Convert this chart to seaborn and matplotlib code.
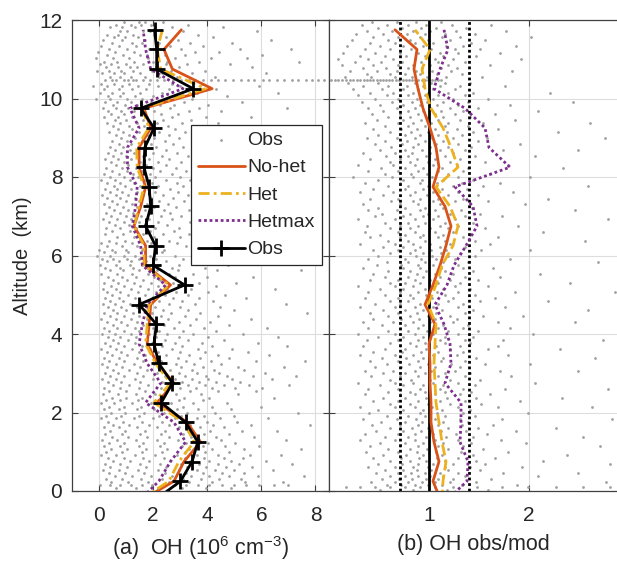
import numpy as np
import pandas as pd
import matplotlib
matplotlib.use('Agg')
import matplotlib.pyplot as plt
import seaborn as sns

# altitude bins of the profiles (km); the -0.25 point is clipped by the axis
altitude = [-0.25, 0.25, 0.75, 1.25, 1.75, 2.25, 2.75, 3.25, 3.75, 4.25, 4.75, 5.25, 5.75,
            6.25, 6.75, 7.25, 7.75, 8.25, 8.75, 9.25, 9.75, 10.25, 10.75, 11.25, 11.75]

# (a) OH concentration, 10^6 cm^-3
oh_obs = [2.03, 3.01, 3.44, 3.65, 3.20, 2.30, 2.71, 2.21, 2.03, 2.12, 1.48, 3.16, 2.00,
          2.09, 1.72, 1.91, 1.85, 1.66, 1.69, 2.03, 1.54, 3.48, 2.13, 2.13, 2.05]
oh_nohet = [1.53, 2.77, 3.14, 3.75, 3.26, 2.15, 2.77, 2.15, 1.78, 1.85, 1.91, 2.64, 1.72,
            1.72, 1.29, 1.54, 1.72, 1.48, 1.48, 1.91, 1.66, 4.18, 2.71, 2.40, 3.04]
oh_het = [1.48, 2.58, 2.95, 3.51, 3.14, 2.03, 2.64, 2.09, 1.72, 1.78, 1.85, 2.58, 1.66,
          1.66, 1.29, 1.48, 1.66, 1.41, 1.39, 1.84, 1.60, 3.94, 2.28, 2.15, 2.34]
oh_hetmax = [1.48, 2.21, 2.64, 3.20, 2.77, 1.72, 2.28, 1.78, 1.48, 1.60, 1.78, 2.46, 1.60,
             1.54, 1.23, 1.35, 1.41, 1.05, 1.05, 1.48, 1.14, 3.10, 1.91, 1.72, 1.63]

# (b) obs/mod ratio
ratio_nohet = [1.12, 1.04, 1.10, 1.05, 1.02, 1.02, 1.01, 1.01, 1.00, 1.06, 0.96, 1.04, 1.11,
               1.17, 1.22, 1.16, 1.04, 1.10, 1.07, 1.01, 0.94, 0.89, 0.85, 0.88, 0.66]
ratio_het = [1.13, 1.14, 1.17, 1.13, 1.10, 1.07, 1.06, 1.05, 1.06, 1.07, 0.99, 1.07, 1.13,
             1.24, 1.29, 1.21, 1.07, 1.29, 1.22, 1.14, 1.02, 0.96, 0.93, 1.01, 0.86]
ratio_hetmax = [1.17, 1.38, 1.39, 1.31, 1.32, 1.32, 1.16, 1.22, 1.21, 1.15, 1.06, 1.18, 1.25,
                1.37, 1.48, 1.44, 1.26, 1.81, 1.60, 1.56, 1.36, 1.05, 1.11, 1.19, 1.15]
ratio_ref = [1.0]
ratio_unc = [1 / 1.4, 1.4]

# individual observations (gray dots), read row by row: "altitude: x values"
obs_points_a = """
11.96: 0.93 1.48 1.71 2.36
11.88: 0.62 1.17 1.55 1.92 3.27
11.81: 0.41 0.86 1.33 2.08 2.71 4.58
11.72: 0.77 1.04 1.62 1.87 3.12 5.83
11.63: 0.28 0.69 1.26 2.03 3.64
11.57: 0.55 0.97 1.44 2.47 4.21
11.49: 0.16 0.83 1.68 2.92 6.34
11.41: 0.47 1.21 1.59 2.23 3.38 4.93
11.33: 0.09 0.74 1.37 2.61 3.86
11.26: 0.36 1.02 1.83 2.17 3.04 5.21 7.08
11.18: -0.04 0.58 1.29 2.12 3.53 4.42
11.11: 0.31 0.88 1.51 1.76 2.44 3.19 6.02
11.03: -0.13 0.52 1.09 1.81 2.79 4.13 5.47
10.94: 0.19 0.66 1.31 2.01 2.52 3.71 7.39
10.87: 0.04 0.43 0.98 1.63 2.48 3.26 4.84
10.79: 0.27 0.71 1.14 1.42 2.09 2.94 5.66
10.71: -0.08 0.35 0.81 1.24 1.97 2.66 3.91
10.64: 0.12 0.57 0.93 1.53 2.31 3.45 6.18
10.56: 0.39 0.77 1.18 1.69 2.22 2.88 4.27
10.48: 0.21 0.62 1.06 1.37 1.89 2.41 3.02 3.56 4.13 4.67 5.24 5.71 6.29 6.82 7.37 7.88 8.32
10.46: 0.48 0.91 1.27 1.61 2.16 2.73 3.31 3.83 4.39 4.96 5.49 6.05 6.57 7.12 7.64 8.11
10.38: 0.07 0.56 1.12 1.86 2.69 3.79
10.31: -0.22 0.29 0.84 1.43 2.18 3.01 5.92
10.23: 0.18 0.73 1.21 1.74 2.57 4.31
10.15: 0.02 0.49 0.87 1.52 2.33 3.62 6.61
10.07: 0.33 0.79 1.34 1.99 2.86 4.72
9.99: -0.11 0.42 1.03 1.58 2.51 3.43
9.92: 0.23 0.68 1.19 1.93 3.13 5.28
9.84: 0.51 0.96 1.41 2.24 2.77 4.02
9.76: 0.13 0.61 1.08 1.72 2.63 3.68 6.96
9.69: 0.32 0.82 1.28 2.04 3.31 4.49
9.61: 0.44 0.92 1.54 2.29 2.93
9.53: 0.17 0.71 1.23 1.79 2.68 3.94 5.61
9.46: 0.58 1.01 1.63 2.38 3.41
9.38: 0.29 0.78 1.39 2.13 3.06 4.38
9.31: 0.53 1.11 1.66 2.54 3.58
9.23: 0.71 1.22 1.86 2.82 4.07
9.15: 0.38 0.89 1.47 2.21 3.17
9.08: 0.63 1.09 1.78 2.59 3.82 4.98
9.00: 0.81 1.32 2.02 2.97
8.92: 0.48 1.04 1.57 2.43 3.48 4.62
8.85: 0.72 1.19 1.91 2.74
8.77: 0.41 0.87 1.43 2.11 3.09 4.29
8.69: 0.59 1.13 1.69 2.49 3.72
8.62: 0.34 0.81 1.31 1.98 2.89 5.37
8.54: 0.52 0.99 1.61 2.32 3.28
8.46: 0.22 0.69 1.17 1.83 2.58 3.97
8.38: 0.43 0.94 1.52 2.19 3.03 4.81
8.31: 0.61 1.07 1.73 2.47 3.63
8.23: 0.27 0.83 1.36 2.01 2.84 4.41
8.15: 0.49 1.02 1.58 2.27 3.22 6.08
8.08: 0.19 0.72 1.24 1.88 2.71 3.81
8.00: 0.39 0.91 1.44 2.08 2.98 4.57
7.92: 0.08 0.58 1.13 1.71 2.46 3.37
7.85: 0.31 0.79 1.29 1.96 2.87 4.18 6.73
7.77: 0.54 0.97 1.51 2.17 3.11
7.69: 0.21 0.67 1.18 1.82 2.61 3.74
7.62: 0.42 0.86 1.41 2.06 2.91 4.88
7.54: 0.11 0.63 1.07 1.64 2.37 3.29
7.46: 0.28 0.76 1.34 1.92 2.72 4.04
7.38: 0.47 0.98 1.49 2.23 3.14 5.19
7.31: 0.18 0.66 1.22 1.78 2.54 3.57
7.23: 0.37 0.88 1.39 2.02 2.83 4.43
7.15: 0.57 1.06 1.68 2.41 3.32
7.08: 0.26 0.77 1.27 1.89 2.64 3.88 5.94
7.00: 0.46 1.01 1.56 2.28 3.04
6.92: 0.16 0.68 1.19 1.84 2.69 4.09
6.85: 0.38 0.92 1.47 2.19 3.36 5.02
6.77: 0.59 1.09 1.71 2.52 3.78
6.69: 0.27 0.79 1.38 2.07 2.94 4.52
6.62: 0.49 1.16 1.87 2.76 3.97 6.41
6.54: 0.21 0.87 1.62 2.36 3.31
6.46: 0.66 1.28 2.04 2.99 4.26
6.38: 0.36 0.97 1.76 2.58 3.69 5.52
6.31: 0.07 0.61 1.21 1.91 2.87
6.23: 0.29 0.83 1.42 2.16 3.23 4.63
6.15: -0.02 0.48 0.99 1.58 2.39 3.47 7.21
6.08: 0.17 0.59 1.08 1.69 2.31 3.86
6.00: -0.07 0.39 0.93 1.32 1.88 2.81 4.97
5.92: 0.12 0.53 1.04 1.49 2.12 3.09 4.18
5.85: 0.28 0.72 1.17 1.73 2.48 3.62 6.03
5.77: 0.03 0.62 1.13 1.57 2.24 2.97 4.77
5.69: 0.22 0.78 1.26 1.86 2.68 3.92
5.62: 0.41 0.89 1.48 2.13 2.91 4.36 7.46
5.54: 0.09 0.68 1.22 1.81 2.57 3.49
5.46: 0.33 0.84 1.37 2.02 2.79 3.98 5.68
5.38: 0.52 1.03 1.62 2.27 3.18
5.31: 0.19 0.71 1.29 1.93 2.73 3.71 5.08
5.23: 0.43 0.92 1.53 2.19 3.02 4.33
5.15: 0.13 0.62 1.18 1.82 2.51 3.39 6.52
5.08: 0.31 0.79 1.43 2.09 2.86 4.01
5.00: 0.49 1.07 1.69 2.42 3.27 4.66
4.92: 0.23 0.73 1.34 1.98 2.72 3.68 5.43
4.85: 0.42 0.88 1.52 2.21 3.06 4.23
4.77: 0.14 0.59 1.16 1.84 2.59 3.53 6.92
4.69: 0.34 0.82 1.39 2.06 2.98 4.48
4.62: 0.53 1.01 1.71 2.37 3.28 4.97
4.54: 0.18 0.67 1.27 1.96 2.67 3.74 7.68
4.46: 0.39 0.91 1.47 2.28 3.16 4.39
4.38: 0.08 0.61 1.19 1.77 2.56 3.58 5.62
4.31: 0.29 0.81 1.41 2.12 2.94 4.11
4.23: 0.51 1.02 1.64 2.39 3.37 4.79
4.15: 0.17 0.68 1.32 1.99 2.78 3.89 6.21
4.08: 0.37 0.93 1.49 2.23 3.11 4.32
4.00: 0.12 0.58 1.17 1.86 2.51 3.47 5.31
3.92: 0.32 0.79 1.38 2.11 2.97 4.02 6.63
3.85: 0.52 1.08 1.72 2.43 3.29 4.61
3.77: 0.21 0.71 1.33 1.97 2.81 3.82 5.88
3.69: 0.41 0.94 1.58 2.32 3.08 4.19 6.96
3.62: 0.09 0.63 1.21 1.89 2.69 3.64 4.93
3.54: 0.28 0.82 1.47 2.17 2.99 3.91 5.52
3.46: 0.49 1.03 1.68 2.48 3.31 4.38 6.29
3.38: 0.19 0.73 1.39 2.09 2.92 3.73 4.82
3.31: 0.38 0.91 1.61 2.29 3.21 4.12 5.79 7.63
3.23: 0.11 0.62 1.28 2.03 2.83 3.52 4.51
3.15: 0.31 0.84 1.52 2.19 3.04 3.83 5.12 6.84
3.08: 0.53 1.12 1.79 2.61 3.42 4.24 5.36
3.00: 0.22 0.71 1.41 2.14 2.94 3.61 4.43 6.12
2.92: 0.42 0.93 1.63 2.42 3.19 3.94 4.72 5.68 7.29
2.85: 0.12 0.64 1.34 2.01 2.79 3.42 4.03 4.91 6.38
2.77: 0.33 0.82 1.53 2.31 3.08 3.71 4.32 5.21
2.69: 0.51 1.09 1.82 2.63 3.29 3.92 4.61 5.53 7.02
2.62: 0.19 0.77 1.47 2.28 3.01 3.58 4.19 5.03 6.04
2.54: 0.38 0.98 1.69 2.52 3.38 4.41 5.82
2.46: 0.14 0.69 1.36 2.07 2.86 3.77 5.14
2.38: 0.47 1.01 1.58 2.34 3.13 4.08 6.47
2.31: 0.24 0.79 1.43 2.18 2.97 3.86
2.23: 0.06 0.57 1.22 1.91 2.66 3.49 4.74
2.15: 0.36 0.92 1.54 2.26 3.09 4.16 5.97
2.08: 0.18 0.73 1.39 2.04 2.88 3.67 4.88
2.00: 0.43 0.97 1.66 2.39 3.24 4.29 7.34
1.92: 0.26 0.81 1.48 2.21 3.02 3.87 4.97
1.85: 0.07 0.62 1.29 1.99 2.82 3.61 4.48 6.24
1.77: 0.34 0.89 1.57 2.32 3.17 3.98 5.09
1.69: 0.53 1.11 1.83 2.58 3.36 4.22 5.61 7.81
1.62: 0.17 0.72 1.41 2.16 2.97 3.74 4.63
1.54: 0.39 0.96 1.68 2.44 3.27 4.09 5.28 6.57
1.46: 0.22 0.84 1.52 2.29 3.12 3.89 4.81
1.38: 0.48 1.07 1.79 2.57 3.41 4.33 5.73
1.31: 0.12 0.67 1.38 2.13 2.93 3.68 4.52 6.91
1.23: 0.36 0.94 1.63 2.41 3.23 4.01 5.04
1.15: 0.19 0.78 1.49 2.26 3.07 3.84 4.67 5.92
1.08: 0.44 1.02 1.74 2.53 3.34 4.18 5.37 7.47
1.00: 0.27 0.86 1.57 2.34 3.16 3.93 4.79
0.92: 0.08 0.64 1.33 2.08 2.89 3.62 4.41 5.58 6.73
0.85: 0.32 0.91 1.62 2.39 3.19 3.88 4.62 5.31
0.77: 0.51 1.14 1.86 2.64 3.38 4.07 4.86 6.16
0.69: 0.21 0.79 1.51 2.27 3.04 3.71 4.39 5.19 7.12
0.62: 0.42 1.03 1.72 2.49 3.26 3.97 4.71 5.64
0.54: 0.16 0.73 1.44 2.19 2.97 3.63 4.29 4.98 6.42
0.46: 0.37 0.96 1.67 2.43 3.21 3.86 4.53 5.36
0.38: 0.58 1.21 1.93 2.71 3.39 4.06 4.82 5.88 7.58
0.31: 0.24 0.83 1.56 2.33 3.11 3.76 4.44 5.23
0.23: 0.46 1.08 1.81 2.57 3.32 4.17 5.41 6.79
0.15: 0.03 0.41 0.79 1.18 1.57 1.96 2.39 2.81 3.22 3.67 4.08 4.54 4.97 5.43 5.92 6.46 6.97
0.07: 0.62 1.37 2.18 3.06 3.97 4.89
"""

obs_points_b = """
11.95: 0.43 0.68 0.87 1.12
11.87: 0.33 0.58 0.79 0.97 1.23 1.62
11.79: 0.49 0.73 0.92 1.07 1.37
11.71: 0.38 0.63 0.84 1.01 1.27 1.77
11.64: 0.27 0.54 0.78 0.96 1.16 1.46
11.56: 0.44 0.69 0.91 1.13 1.31 2.02
11.48: 0.23 0.59 0.81 0.99 1.21 1.56
11.41: 0.41 0.66 0.86 1.04 1.42
11.33: 0.18 0.51 0.74 0.94 1.17 1.34 1.87
11.25: 0.36 0.61 0.82 1.02 1.26 1.51
11.17: 0.14 0.46 0.71 0.89 1.11 1.29 1.71
11.09: 0.31 0.56 0.77 0.96 1.14 1.47
11.01: 0.09 0.39 0.64 0.86 1.06 1.24 1.92
10.93: 0.26 0.52 0.73 0.92 1.09 1.36
10.85: 0.13 0.44 0.69 0.84 1.01 1.19 1.61
10.78: 0.34 0.57 0.79 0.93 1.12 1.28
10.70: 0.21 0.48 0.68 0.87 1.03 1.22 1.83
10.62: 0.38 0.61 0.76 0.91 1.08 1.33
10.55: 0.16 0.42 0.66 0.83 0.98 1.17 1.53
10.48: 0.02 0.09 0.17 0.24 0.31 0.38 0.44 0.51 0.57 0.63 0.70 0.77 0.83 0.89 0.96 1.03 1.09
10.46: 0.06 0.13 0.21 0.28 0.35 0.41 0.48 0.54 0.60 0.67 0.74 0.80 0.86 0.93 0.99 1.06 1.12
10.39: 0.19 0.49 0.71 0.86 1.02 1.16 1.41
10.31: 0.34 0.59 0.78 0.94 1.11 1.31 1.76
10.23: 0.24 0.53 0.74 0.89 1.04 1.26
10.15: 0.41 0.64 0.84 0.99 1.19 1.44 2.21
10.08: 0.29 0.58 0.79 0.96 1.09 1.36
10.00: 0.46 0.69 0.88 1.04 1.24 1.59
9.92: 0.33 0.63 0.83 0.98 1.14 1.39 2.44
9.84: 0.51 0.74 0.91 1.08 1.29 1.81
9.76: 0.39 0.68 0.86 1.01 1.21 1.49
9.68: 0.54 0.79 0.94 1.12 1.34 2.09
9.61: 0.43 0.71 0.89 1.06 1.26 1.66
9.53: 0.59 0.81 0.97 1.14 1.41
9.46: 0.48 0.74 0.92 1.09 1.31 1.86
9.38: 0.36 0.69 0.84 1.02 1.19 1.54 2.61
9.30: 0.56 0.79 0.96 1.16 1.39
9.22: 0.44 0.72 0.88 1.06 1.28 1.69
9.15: 0.61 0.82 0.99 1.18 1.44 2.29
9.07: 0.49 0.76 0.91 1.09 1.33
9.00: 0.38 0.68 0.86 1.03 1.24 1.58 2.76
8.92: 0.56 0.78 0.96 1.14 1.49
8.84: 0.46 0.73 0.89 1.07 1.29 1.91
8.76: 0.62 0.84 1.01 1.19 1.42
8.69: 0.51 0.76 0.93 1.11 1.36 1.74 2.49
8.61: 0.34 0.66 0.83 1.01 1.24
8.53: 0.57 0.79 0.97 1.16 1.46 2.06
8.45: 0.41 0.71 0.88 1.06 1.31
8.38: 0.61 0.81 0.99 1.21 1.56
8.30: 0.29 0.64 0.86 1.04 1.28 1.79
8.22: 0.52 0.76 0.94 1.13 1.39 2.34
8.15: 0.39 0.69 0.89 1.09 1.34
8.07: 0.56 0.82 0.98 1.19 1.61
8.00: 0.24 0.63 0.84 1.03 1.29 2.01
7.92: 0.49 0.74 0.93 1.14 1.44
7.84: 0.36 0.71 0.91 1.08 1.33 1.71
7.76: 0.59 0.79 0.99 1.24 1.54 2.59
7.69: 0.44 0.76 0.94 1.13 1.38
7.61: 0.31 0.64 0.86 1.04 1.29 1.84
7.53: 0.54 0.81 0.98 1.19 1.49
7.45: 0.41 0.69 0.91 1.09 1.34 2.19
7.38: 0.62 0.84 1.04 1.26 1.59
7.30: 0.34 0.71 0.89 1.11 1.41 1.96
7.22: 0.49 0.76 0.96 1.14 1.43
7.15: 0.39 0.68 0.91 1.06 1.32 2.46
7.07: 0.53 0.81 0.99 1.21 1.51
7.00: 0.46 0.74 0.94 1.09 1.36 1.73
6.92: 0.29 0.66 0.86 1.04 1.26 2.79
6.84: 0.56 0.79 0.96 1.16 1.44
6.76: 0.38 0.71 0.89 1.11 1.29 1.89
6.69: 0.61 0.81 1.01 1.19 1.56
6.61: 0.36 0.69 0.86 1.06 1.24 2.14
6.53: 0.51 0.76 0.94 1.14 1.41
6.46: 0.41 0.71 0.91 1.09 1.34 1.69
6.38: 0.59 0.79 0.96 1.16 1.46 2.56
6.30: 0.31 0.66 0.84 1.01 1.21 1.61
6.22: 0.54 0.74 0.91 1.11 1.36
6.15: 0.44 0.69 0.86 1.02 1.17 1.52 2.01
6.07: 0.61 0.81 0.94 1.12 1.31
6.00: 0.49 0.71 0.87 1.03 1.19 1.46
5.92: 0.39 0.76 0.92 1.07 1.26 1.81
5.84: 0.58 0.79 0.96 1.14 1.39 2.69
5.76: 0.48 0.72 0.89 1.04 1.29
5.69: 0.34 0.74 0.91 1.12 1.34 1.64
5.61: 0.59 0.81 0.97 1.16 1.44
5.53: 0.44 0.71 0.88 1.06 1.24 2.11
5.45: 0.56 0.79 0.94 1.11 1.36 1.71
5.38: 0.41 0.69 0.86 1.01 1.21 1.49
5.30: 0.61 0.76 0.91 1.09 1.31 2.41
5.22: 0.29 0.66 0.84 1.04 1.26 1.59
5.14: 0.51 0.74 0.96 1.14 1.41
5.07: 0.39 0.71 0.89 1.08 1.29 1.86 2.86
5.00: 0.56 0.81 0.97 1.16 1.46
4.92: 0.36 0.69 0.84 1.03 1.24 1.66
4.84: 0.61 0.79 0.99 1.19 1.51 2.19
4.77: 0.46 0.71 0.91 1.09 1.34
4.69: 0.31 0.66 0.86 1.04 1.29 1.76
4.61: 0.54 0.76 0.94 1.13 1.44 2.59
4.53: 0.41 0.69 0.88 1.07 1.36
4.46: 0.59 0.81 0.99 1.21 1.54 1.94
4.38: 0.44 0.72 0.90 1.06 1.28
4.30: 0.34 0.64 0.84 1.01 1.24 1.69 2.46
4.22: 0.53 0.76 0.94 1.14 1.39
4.15: 0.39 0.71 0.89 1.09 1.34 1.81
4.07: 0.59 0.79 0.98 1.19 1.49
4.00: 0.29 0.66 0.86 1.04 1.29 2.04
3.92: 0.49 0.74 0.94 1.16 1.44
3.84: 0.38 0.69 0.89 1.11 1.36 1.74 2.74
3.76: 0.61 0.81 0.96 1.16 1.41
3.69: 0.34 0.71 0.87 1.07 1.31 1.69
3.61: 0.56 0.76 0.97 1.21 1.59 2.31
3.53: 0.44 0.73 0.92 1.09 1.34
3.46: 0.31 0.66 0.84 1.04 1.28 1.79
3.38: 0.53 0.77 0.94 1.14 1.47 2.66
3.30: 0.41 0.69 0.89 1.12 1.36
3.23: 0.58 0.80 0.99 1.22 1.56 2.01
3.15: 0.46 0.72 0.91 1.06 1.31
3.07: 0.36 0.64 0.86 1.02 1.26 1.71 2.49
3.00: 0.54 0.76 0.96 1.16 1.41
2.92: 0.42 0.71 0.89 1.09 1.36 1.82
2.84: 0.61 0.82 1.01 1.21 1.51
2.76: 0.29 0.66 0.84 1.04 1.29 2.06
2.69: 0.51 0.74 0.94 1.14 1.46
2.61: 0.39 0.69 0.91 1.11 1.34 1.76 2.79
2.53: 0.59 0.81 0.96 1.16 1.42
2.46: 0.36 0.71 0.86 1.06 1.31 1.61
2.38: 0.54 0.76 0.97 1.18 1.47 2.33
2.30: 0.44 0.69 0.89 1.11 1.36 1.91
2.22: 0.61 0.81 0.99 1.21 1.52
2.15: 0.31 0.66 0.86 1.03 1.29 1.69 2.63
2.07: 0.49 0.74 0.94 1.13 1.41
2.00: 0.40 0.71 0.91 1.08 1.34 1.99
1.92: 0.58 0.79 0.96 1.16 1.46
1.84: 0.34 0.68 0.87 1.06 1.31 1.73 2.83
1.76: 0.52 0.76 0.93 1.14 1.39
1.69: 0.43 0.71 0.89 1.09 1.33 1.64
1.61: 0.61 0.83 0.99 1.19 1.49 2.27
1.53: 0.47 0.74 0.92 1.12 1.37 1.87
1.46: 0.36 0.69 0.86 1.04 1.27 1.58
1.38: 0.56 0.79 0.97 1.17 1.44 2.54
1.30: 0.31 0.66 0.86 1.06 1.29 1.72
1.23: 0.51 0.76 0.94 1.14 1.42 1.97
1.15: 0.41 0.71 0.89 1.09 1.34 2.71
1.07: 0.59 0.81 0.98 1.19 1.54
1.00: 0.37 0.69 0.88 1.07 1.32 1.79
0.92: 0.54 0.77 0.94 1.13 1.44 2.38
0.84: 0.44 0.72 0.90 1.08 1.29 1.66
0.76: 0.61 0.81 0.97 1.16 1.47 2.14
0.69: 0.49 0.73 0.89 1.04 1.24 1.56 2.81
0.61: 0.39 0.66 0.84 0.99 1.16 1.41 1.93
0.53: 0.56 0.74 0.88 1.02 1.19 1.51
0.46: 0.47 0.69 0.82 0.96 1.11 1.29 1.74 2.49
0.38: 0.61 0.76 0.89 1.01 1.14 1.36 2.09
0.30: 0.53 0.70 0.83 0.97 1.09 1.24 1.62
0.23: 0.42 0.66 0.79 0.93 1.06 1.21 1.47 2.77
0.15: 0.58 0.72 0.86 0.99 1.13 1.33 1.88
0.09: 0.17 0.31 0.46 0.61 0.76 0.91 1.06 1.24 1.48 1.73 1.99 2.27 2.54 2.81
0.03: 0.51 0.84 1.18 1.59
"""


def parse_rows(text):
    alt, val = [], []
    for line in text.strip().splitlines():
        a, xs = line.split(':')
        for x in xs.split():
            alt.append(float(a))
            val.append(float(x))
    return pd.DataFrame({'alt': alt, 'val': val})


sns.set_style('ticks')
plt.rcParams['font.family'] = ['Liberation Sans', 'DejaVu Sans']
plt.rcParams['mathtext.fontset'] = 'custom'
plt.rcParams['mathtext.rm'] = 'Liberation Sans'

ORANGE = '#D95319'
YELLOW = '#EDB120'
PURPLE = '#7E2F8E'
GRAY = '#A0A0A0'
TXT = '#262626'

fig = plt.figure(figsize=(6.17, 5.63), dpi=100)
ax1 = fig.add_axes([72 / 617, 72 / 563, 257 / 617, 471 / 563])
ax2 = fig.add_axes([329 / 617, 72 / 563, 288 / 617, 471 / 563])

prof = pd.DataFrame({'alt': altitude, 'oh_obs': oh_obs, 'oh_nohet': oh_nohet,
                     'oh_het': oh_het, 'oh_hetmax': oh_hetmax, 'r_nohet': ratio_nohet,
                     'r_het': ratio_het, 'r_hetmax': ratio_hetmax})
pts_a = parse_rows(obs_points_a)
pts_b = parse_rows(obs_points_b)

# ---- (a) OH profiles ----
sns.scatterplot(data=pts_a, x='val', y='alt', ax=ax1, color=GRAY, s=4,
                linewidth=0, label='Obs', zorder=1)
sns.lineplot(data=prof, x='oh_nohet', y='alt', ax=ax1, sort=False, estimator=None,
             color=ORANGE, lw=2, label='No-het', zorder=3)
sns.lineplot(data=prof, x='oh_het', y='alt', ax=ax1, sort=False, estimator=None,
             color=YELLOW, lw=2, dashes=(4, 1.5, 1, 1.5), label='Het', zorder=3)
sns.lineplot(data=prof, x='oh_hetmax', y='alt', ax=ax1, sort=False, estimator=None,
             color=PURPLE, lw=2, dashes=(1, 1), label='Hetmax', zorder=3)
sns.lineplot(data=prof, x='oh_obs', y='alt', ax=ax1, sort=False, estimator=None,
             color='black', lw=2, marker='+', markersize=12, markeredgewidth=2,
             markeredgecolor='black', label='Obs', zorder=4)

# ---- (b) obs/mod ratio ----
sns.scatterplot(data=pts_b, x='val', y='alt', ax=ax2, color=GRAY, s=4,
                linewidth=0, zorder=1)
for r in ratio_unc:
    ax2.axvline(r, color='black', lw=2, ls=(0, (1, 1)), zorder=2)
for r in ratio_ref:
    ax2.axvline(r, color='black', lw=2, zorder=2)
sns.lineplot(data=prof, x='r_nohet', y='alt', ax=ax2, sort=False, estimator=None,
             color=ORANGE, lw=2, zorder=3)
sns.lineplot(data=prof, x='r_het', y='alt', ax=ax2, sort=False, estimator=None,
             color=YELLOW, lw=2, dashes=(4, 1.5), zorder=3)
sns.lineplot(data=prof, x='r_hetmax', y='alt', ax=ax2, sort=False, estimator=None,
             color=PURPLE, lw=2, dashes=(1, 1), zorder=3)

for ax in (ax1, ax2):
    ax.set_ylim(0, 12)
    ax.set_yticks([0, 2, 4, 6, 8, 10, 12])
    ax.grid(True, color='#DDDDDD', lw=0.8, zorder=0)
    ax.set_axisbelow(True)
    ax.tick_params(direction='in', length=4, width=0.8, top=True, right=True,
                   colors='#404040', labelcolor=TXT, labelsize=15)
    ax.tick_params(axis='x', pad=11)
    ax.tick_params(axis='y', pad=7)
    for sp in ax.spines.values():
        sp.set_color('#404040')
        sp.set_linewidth(0.9)
    ax.set_ylabel('')

ax1.set_xlim(-1, 8.5)
ax1.set_xticks([0, 2, 4, 6, 8])
ax1.set_xlabel('(a)  OH (10$^6$ cm$^{-3}$)', fontsize=15.5, color=TXT, labelpad=6)
ax1.set_ylabel('Altitude  (km)', fontsize=14.5, color=TXT, labelpad=5)

ax2.set_xlim(0, 2.88)
ax2.set_xticks([1, 2])
ax2.set_yticklabels([])
ax2.spines['right'].set_visible(False)
ax2.tick_params(right=False)
ax2.set_xlabel('(b) OH obs/mod', fontsize=15.5, color=TXT, labelpad=6)

leg = ax1.legend(loc='upper right', bbox_to_anchor=(0.972, 0.778), fontsize=14,
                 frameon=True, fancybox=False, framealpha=1, edgecolor='#262626',
                 handlelength=2.4, handletextpad=0.15, borderpad=0.35, labelspacing=0.5,
                 borderaxespad=0, markerscale=1)
leg.get_frame().set_linewidth(0.9)
for t in leg.get_texts():
    t.set_color(TXT)

fig.savefig('out.png', dpi=100)
